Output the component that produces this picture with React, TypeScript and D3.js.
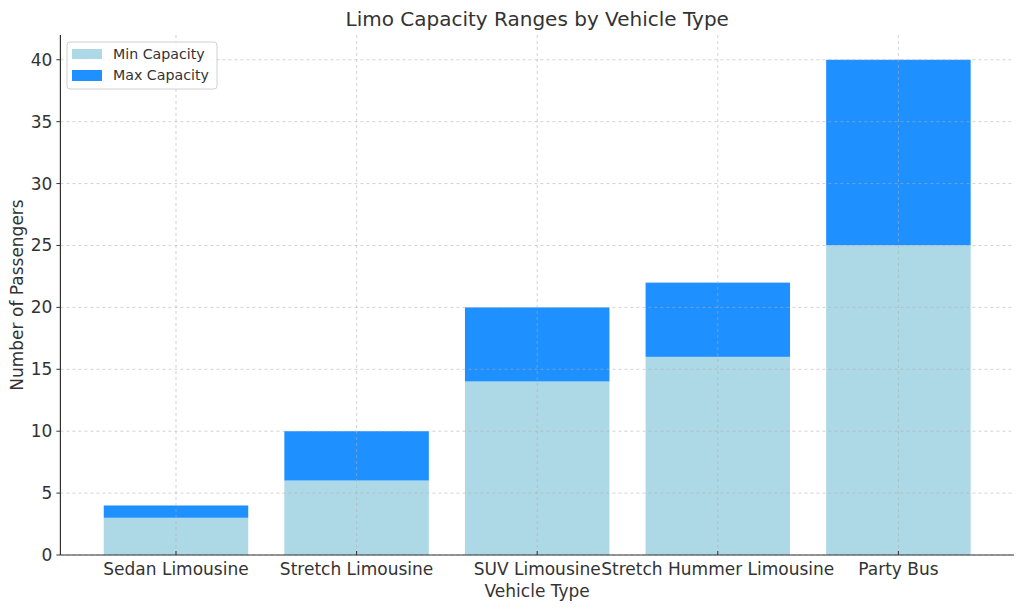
import React from "react";
import * as d3 from "d3";

const categories = ["Sedan Limousine", "Stretch Limousine", "SUV Limousine", "Stretch Hummer Limousine", "Party Bus"];
const minCapacity = [3, 6, 14, 16, 25];
const maxCapacity = [4, 10, 20, 22, 40];
const yTicks = [0, 5, 10, 15, 20, 25, 30, 35, 40];

const W = 1024, H = 611;
const L = 60.4, R = 1014, T = 35, B = 555;
const FONT = "DejaVu Sans, sans-serif";
const TXT = "#333333";

export default function App() {
  const x = d3.scaleLinear().domain([-0.64, 4.64]).range([L, R]);
  const y = d3.scaleLinear().domain([0, 42]).range([B, T]);
  const bw = x(0.8) - x(0);
  return (
    <svg width={W} height={H} style={{ position: "absolute", left: 0, top: 0, background: "#fff" }}>
      {categories.map((c, i) => (
        <g key={c}>
          <rect x={x(i) - bw / 2} width={bw} y={y(maxCapacity[i])} height={y(minCapacity[i]) - y(maxCapacity[i])} fill="#1e90ff" />
          <rect x={x(i) - bw / 2} width={bw} y={y(minCapacity[i])} height={B - y(minCapacity[i])} fill="#add8e6" />
        </g>
      ))}
      {yTicks.map((t) => (
        <line key={"gy" + t} x1={L} x2={R} y1={y(t)} y2={y(t)} stroke="#b0b0b0" strokeOpacity={0.7} strokeDasharray="3,3" strokeWidth={0.8} />
      ))}
      {categories.map((c, i) => (
        <line key={"gx" + c} x1={x(i)} x2={x(i)} y1={T} y2={B} stroke="#b0b0b0" strokeOpacity={0.7} strokeDasharray="3,3" strokeWidth={0.8} />
      ))}
      <line x1={L} x2={L} y1={T} y2={B} stroke={TXT} strokeWidth={1.2} />
      <line x1={L} x2={R} y1={B} y2={B} stroke={TXT} strokeWidth={1.2} />
      {yTicks.map((t) => (
        <g key={"ty" + t}>
          <line x1={L - 4} x2={L} y1={y(t)} y2={y(t)} stroke={TXT} strokeWidth={1} />
          <text x={L - 8} y={y(t)} dy="0.35em" textAnchor="end" fontFamily={FONT} fontSize={17} fill={TXT}>{t}</text>
        </g>
      ))}
      {categories.map((c, i) => (
        <g key={"tx" + c}>
          <line x1={x(i)} x2={x(i)} y1={B} y2={B - 4} stroke={TXT} strokeWidth={1} />
          <text x={x(i)} y={B + 19.5} textAnchor="middle" fontFamily={FONT} fontSize={17} fill={TXT}>{c}</text>
        </g>
      ))}
      <text x={(L + R) / 2} y={26} textAnchor="middle" fontFamily={FONT} fontSize={20} fill={TXT}>Limo Capacity Ranges by Vehicle Type</text>
      <text x={(L + R) / 2} y={597} textAnchor="middle" fontFamily={FONT} fontSize={17} fill={TXT}>Vehicle Type</text>
      <text transform={`translate(23,${(T + B) / 2}) rotate(-90)`} textAnchor="middle" fontFamily={FONT} fontSize={17} fill={TXT}>Number of Passengers</text>
      <g>
        <rect x={67} y={42} width={150} height={47} rx={3} fill="#fff" fillOpacity={0.8} stroke="#d0d0d0" />
        <rect x={72} y={49} width={30} height={10} fill="#add8e6" />
        <rect x={72} y={70} width={30} height={11} fill="#1e90ff" />
        <text x={113} y={54} dy="0.35em" fontFamily={FONT} fontSize={14.2} fill={TXT}>Min Capacity</text>
        <text x={113} y={75} dy="0.35em" fontFamily={FONT} fontSize={14.2} fill={TXT}>Max Capacity</text>
      </g>
    </svg>
  );
}
